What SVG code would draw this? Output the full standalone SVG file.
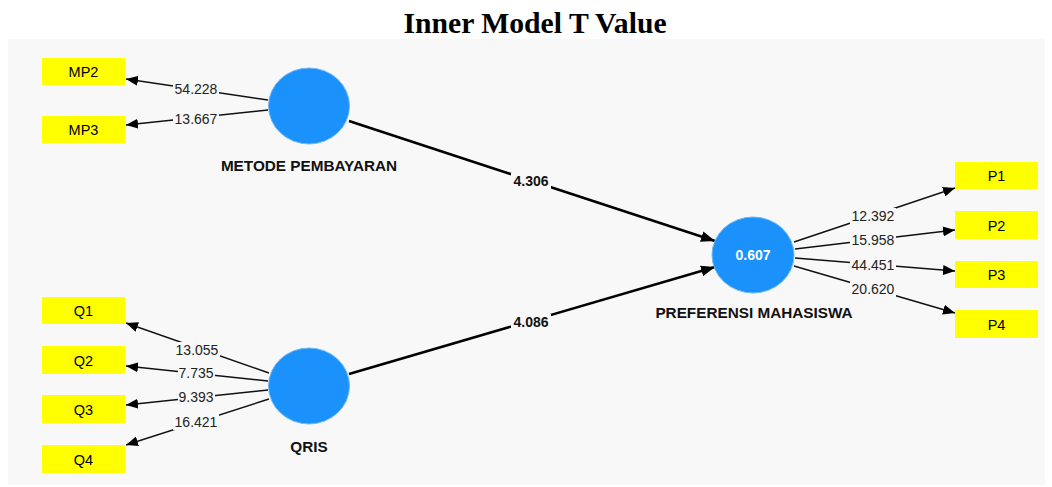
<svg xmlns="http://www.w3.org/2000/svg" width="1052" height="487" viewBox="0 0 1052 487">
<defs>
<style>
.box{fill:#ffff00}
.lv{fill:#1a91fb;stroke:#6fb8f7;stroke-width:1}
.bt{font-family:"Liberation Sans",Arial,sans-serif;font-size:14.5px;fill:#000;text-anchor:middle}
.nl{font-family:"Liberation Sans",Arial,sans-serif;font-size:15.3px;font-weight:bold;fill:#111;text-anchor:middle}
.il{font-family:"Liberation Sans",Arial,sans-serif;font-size:14px;fill:#222;text-anchor:middle}
.sl{font-family:"Liberation Sans",Arial,sans-serif;font-size:14px;font-weight:bold;fill:#111;text-anchor:middle}
.thin{stroke:#111;stroke-width:1.4;fill:none;marker-end:url(#ah)}
.thick{stroke:#000;stroke-width:2.6;fill:none;marker-end:url(#ahb)}
.lb{fill:#f8f8f8}
</style>
<marker id="ah" viewBox="0 0 12 10" refX="12" refY="5" markerWidth="12" markerHeight="10" markerUnits="userSpaceOnUse" orient="auto">
<path d="M0,0 L12,5 L0,10 z" fill="#000"/>
</marker>
<marker id="ahb" viewBox="0 0 14 11" refX="14" refY="5.5" markerWidth="14" markerHeight="11" markerUnits="userSpaceOnUse" orient="auto">
<path d="M0,0 L14,5.5 L0,11 z" fill="#000"/>
</marker>
</defs>
<rect x="0" y="0" width="1052" height="487" fill="#ffffff"/>
<text x="535" y="33" font-family="Liberation Serif,'Times New Roman',serif" font-size="29.7" font-weight="bold" text-anchor="middle" fill="#000">Inner Model T Value</text>
<rect x="8" y="39" width="1037" height="446" fill="#f8f8f8"/>

<g id="connectors">
<line class="thin" x1="268" y1="100" x2="126" y2="79"/>
<line class="thin" x1="268" y1="110" x2="126" y2="125"/>
<line class="thin" x1="269" y1="373" x2="126" y2="323"/>
<line class="thin" x1="268" y1="381" x2="126" y2="366"/>
<line class="thin" x1="268" y1="390" x2="126" y2="405"/>
<line class="thin" x1="269" y1="399" x2="126" y2="445"/>
<line class="thin" x1="794" y1="242" x2="955" y2="188"/>
<line class="thin" x1="795" y1="249" x2="955" y2="230"/>
<line class="thin" x1="795" y1="258" x2="955" y2="271"/>
<line class="thin" x1="794" y1="266" x2="955" y2="313"/>
<line class="thick" x1="349" y1="121" x2="715" y2="241"/>
<line class="thick" x1="349" y1="374" x2="715" y2="267"/>
<rect class="lb" x="173" y="81" width="46" height="16"/><text class="il" x="196" y="94">54.228</text>
<rect class="lb" x="173" y="111" width="46" height="16"/><text class="il" x="196" y="124">13.667</text>
<rect class="lb" x="174" y="342" width="46" height="16"/><text class="il" x="197" y="355">13.055</text>
<rect class="lb" x="178" y="365" width="37" height="16"/><text class="il" x="196" y="378">7.735</text>
<rect class="lb" x="178" y="389" width="37" height="16"/><text class="il" x="196" y="402">9.393</text>
<rect class="lb" x="173" y="414" width="46" height="16"/><text class="il" x="196" y="427">16.421</text>
<rect class="lb" x="850" y="208" width="46" height="16"/><text class="il" x="873" y="221">12.392</text>
<rect class="lb" x="850" y="232" width="46" height="16"/><text class="il" x="873" y="245">15.958</text>
<rect class="lb" x="850" y="257" width="46" height="16"/><text class="il" x="873" y="270">44.451</text>
<rect class="lb" x="850" y="281" width="46" height="16"/><text class="il" x="873" y="294">20.620</text>
<rect class="lb" x="511" y="173" width="40" height="16"/><text class="sl" x="531" y="186">4.306</text>
<rect class="lb" x="511" y="314" width="40" height="16"/><text class="sl" x="531" y="327">4.086</text>
</g>

<g id="MP2"><rect class="box" x="42" y="58" width="83" height="27"/><text class="bt" x="83.5" y="76.5">MP2</text></g>
<g id="MP3"><rect class="box" x="42" y="116" width="83" height="27"/><text class="bt" x="83.5" y="134.5">MP3</text></g>
<g id="Q1"><rect class="box" x="42" y="297" width="83" height="27"/><text class="bt" x="83.5" y="315.5">Q1</text></g>
<g id="Q2"><rect class="box" x="42" y="346" width="83" height="28"/><text class="bt" x="83.5" y="365.5">Q2</text></g>
<g id="Q3"><rect class="box" x="42" y="395" width="83" height="28"/><text class="bt" x="83.5" y="414.5">Q3</text></g>
<g id="Q4"><rect class="box" x="42" y="445" width="83" height="28"/><text class="bt" x="83.5" y="464.5">Q4</text></g>
<g id="P1"><rect class="box" x="955" y="162" width="83" height="27"/><text class="bt" x="996.5" y="180.5">P1</text></g>
<g id="P2"><rect class="box" x="955" y="211" width="83" height="28"/><text class="bt" x="996.5" y="230.5">P2</text></g>
<g id="P3"><rect class="box" x="955" y="261" width="83" height="27"/><text class="bt" x="996.5" y="279.5">P3</text></g>
<g id="P4"><rect class="box" x="955" y="310" width="83" height="28"/><text class="bt" x="996.5" y="329.5">P4</text></g>

<g id="METODE_PEMBAYARAN"><ellipse class="lv" cx="309" cy="106" rx="40.5" ry="38"/><text class="nl" x="309" y="171">METODE PEMBAYARAN</text></g>
<g id="QRIS"><ellipse class="lv" cx="309" cy="386" rx="40.5" ry="38"/><text class="nl" x="309" y="452">QRIS</text></g>
<g id="PREFERENSI_MAHASISWA"><ellipse class="lv" cx="753" cy="255" rx="41" ry="38"/><text x="753" y="260" font-family="Liberation Sans,Arial,sans-serif" font-size="14" font-weight="bold" fill="#fff" text-anchor="middle">0.607</text><text class="nl" x="754" y="318">PREFERENSI MAHASISWA</text></g>
</svg>
